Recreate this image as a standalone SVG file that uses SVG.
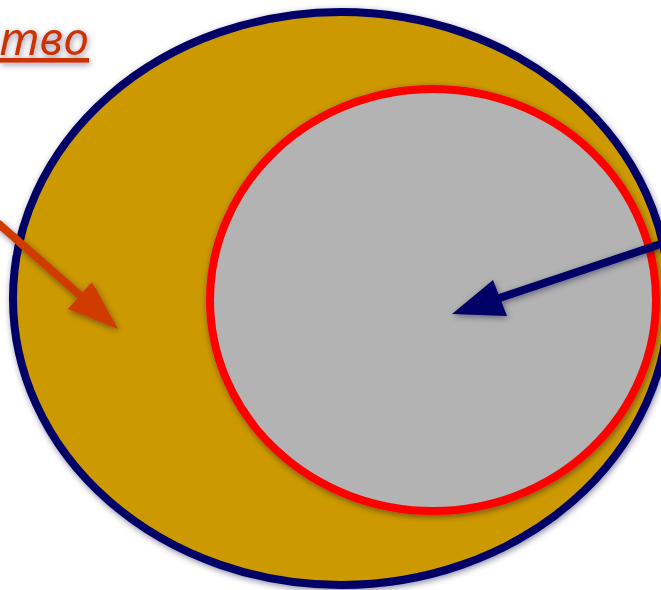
<svg xmlns="http://www.w3.org/2000/svg" width="661" height="590" viewBox="0 0 661 590">
  <style>
    .outer { fill: #CC9900; stroke: #000066; stroke-width: 8; }
    .inner { fill: #B3B3B3; stroke: #FF0000; stroke-width: 8; }
    .conn { fill: none; stroke-width: 8; stroke-linecap: butt; }
    .orange { stroke: #D03A00; }
    .orange-head { fill: #D03A00; }
    .navy { stroke: #000066; }
    .navy-head { fill: #000066; }
    .label { font-family: "Noto Sans", "Open Sans", "Liberation Sans", sans-serif; font-style: italic; font-size: 46px; fill: #CC3300; text-decoration: underline; }
  </style>
  <defs>
    <filter id="sh" x="-10%" y="-10%" width="120%" height="120%">
      <feGaussianBlur in="SourceAlpha" stdDeviation="3"/>
      <feOffset dx="1" dy="2" result="b"/>
      <feFlood flood-color="#000033" flood-opacity="0.45"/>
      <feComposite in2="b" operator="in"/>
      <feMerge><feMergeNode/><feMergeNode in="SourceGraphic"/></feMerge>
    </filter>
  </defs>
  <rect width="661" height="590" fill="#FFFFFF"/>
  <g id="title" filter="url(#sh)">
    <text class="label" x="89" y="55" text-anchor="end">тво</text>
  </g>
  <g id="outer-ellipse" filter="url(#sh)">
    <ellipse class="outer" cx="341" cy="298.5" rx="328" ry="286.5"/>
  </g>
  <g id="inner-ellipse" filter="url(#sh)">
    <ellipse class="inner" cx="433" cy="300" rx="223" ry="211"/>
  </g>
  <g id="connectors" filter="url(#sh)">
    <line class="conn orange" x1="-2" y1="223.2" x2="82" y2="297"/>
    <polygon class="orange-head" points="118,329 68,309 92,282"/>
    <line class="conn navy" x1="663" y1="243.3" x2="498" y2="298.5"/>
    <polygon class="navy-head" points="452,314 493,280 507,316"/>
  </g>
</svg>
